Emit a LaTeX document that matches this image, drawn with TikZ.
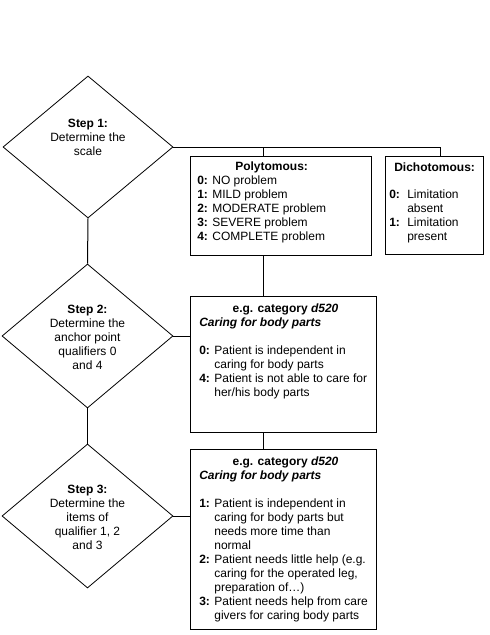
\documentclass[tikz,border=0pt]{standalone}
\usepackage{fontspec}
\setmainfont{Liberation Sans}
\usetikzlibrary{shapes.geometric,fit}
\tikzset{
  dia/.style={draw, diamond, inner sep=0pt, line width=0.6pt},
  box/.style={draw, inner sep=0pt, line width=0.75pt},
  conn/.style={line width=0.75pt},
  txt/.style={inner sep=0pt, font=\fontsize{9}{10.5}\selectfont},
  ltxt/.style={txt, align=left, anchor=north west},
  ctxt/.style={txt, align=center},
}
\newcommand\tst{\rule{0pt}{7.5pt}}
\newcommand\num[1]{\textbf{#1:} }
\newcommand\ind[1]{\hphantom{\textbf{#1:} }}
\begin{document}
\begin{tikzpicture}[x=0.75pt,y=-0.75pt]
\useasboundingbox (0,0) rectangle (489,635);
% diamonds
\node[dia, minimum width=127.5pt, minimum height=106.5pt] (d1) at (88,147) {};
\node[dia, minimum width=128.25pt, minimum height=108pt] (d2) at (87.5,336) {};
\node[dia, minimum width=128.25pt, minimum height=108pt] (d3) at (87.5,516) {};
\node[ctxt] (d1t) at (88,137) {\textbf{Step 1:}\\Determine the\\scale};
\node[ctxt] (d2t) at (87.5,337) {\textbf{Step 2:}\\Determine the\\anchor point\\qualifiers 0\\and 4};
\node[ctxt] (d3t) at (87.5,517) {\textbf{Step 3:}\\Determine the\\items of\\qualifier 1, 2\\and 3};
% boxes
\node[box, fit={(190,156)(371,255)}] (poly) {};
\node[box, fit={(385,156)(483,254)}] (dich) {};
\node[box, fit={(190,296)(376,432)}] (b2) {};
\node[box, fit={(190,449)(376,629)}] (b3) {};
% connectors
\coordinate (j1) at (263,147);
\coordinate (j2) at (440,147);
\draw[conn] (d1.east) -- (j2);
\draw[conn] (j1) -- (j1 |- poly.north);
\draw[conn] (j2) -- (j2 |- dich.north);
\draw[conn] (d1.south) -- (d2.north);
\draw[conn] (d2.south) -- (d3.north);
\draw[conn] (d2.east) -- (d2.east -| b2.west);
\draw[conn] (d3.east) -- (d3.east -| b3.west);
\draw[conn] (poly.south -| j1) -- (b2.north -| j1);
\draw[conn] (b2.south -| j1) -- (b3.north -| j1);
% polytomous
\node[txt, anchor=base west] (polyh) at (235,170.3) {\textbf{Polytomous:}};
\node[ltxt] (polyl) at (197,174.3) {\tst\num{0}NO problem\\\num{1}MILD problem\\\num{2}MODERATE problem\\\num{3}SEVERE problem\\\num{4}COMPLETE problem};
% dichotomous
\node[txt, anchor=base west] (dichh) at (394,171.3) {\textbf{Dichotomous:}};
\node[ltxt] (dichl) at (389,188.3) {\tst\makebox[13.5pt][l]{\textbf{0:}}Limitation\\\hspace*{13.5pt}absent\\\makebox[13.5pt][l]{\textbf{1:}}Limitation\\\hspace*{13.5pt}present};
% box 2
\node[txt, anchor=base] (b2h) at (285.5,312.3) {\textbf{e.g. category \textit{d520}}};
\node[ltxt] (b2l) at (199,316.3) {\tst\textbf{\textit{Caring for body parts}}\\[10.5pt]
\num{0}Patient is independent in\\\ind{0}caring for body parts\\
\num{4}Patient is not able to care for\\\ind{4}her/his body parts};
% box 3
\node[txt, anchor=base] (b3h) at (285.5,465.3) {\textbf{e.g. category \textit{d520}}};
\node[ltxt] (b3l) at (199,469.3) {\tst\textbf{\textit{Caring for body parts}}\\[10.5pt]
\num{1}Patient is independent in\\\ind{1}caring for body parts but\\\ind{1}needs more time than\\\ind{1}normal\\
\num{2}Patient needs little help (e.g.\\\ind{2}caring for the operated leg,\\\ind{2}preparation of…)\\
\num{3}Patient needs help from care\\\ind{3}givers for caring body parts};
\end{tikzpicture}
\end{document}
